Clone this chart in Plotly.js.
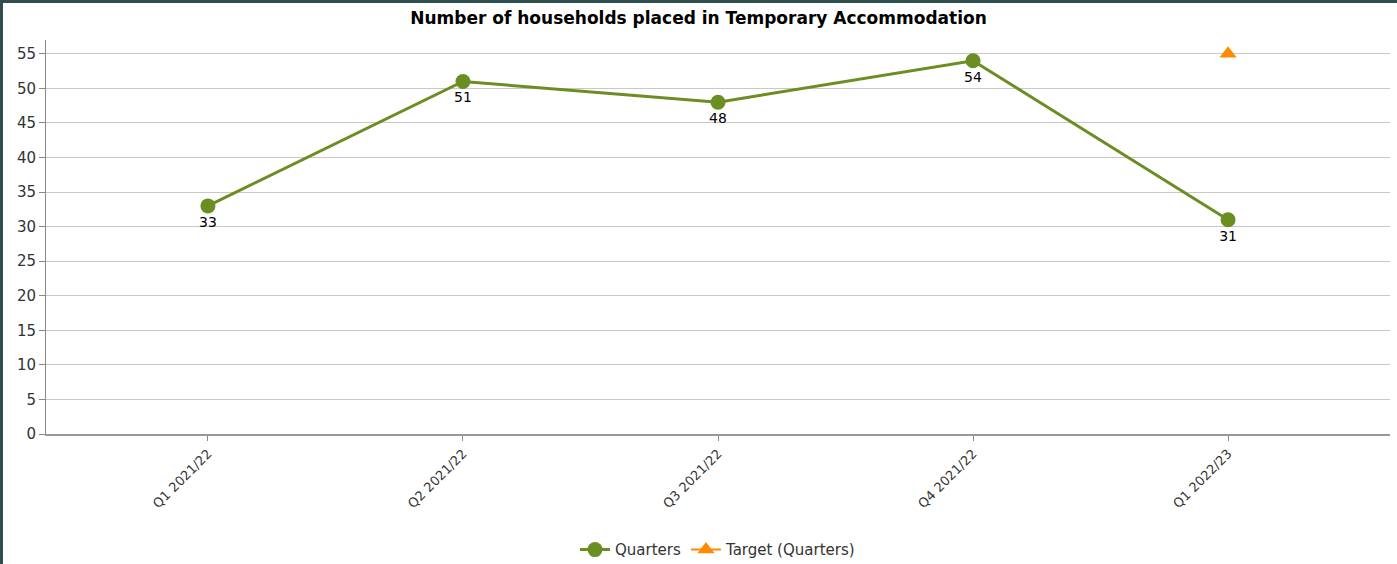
<!DOCTYPE html>
<html>
<head>
<meta charset="utf-8">
<script src="https://cdn.plot.ly/plotly-3.0.1.min.js"></script>
<style>
  html, body { margin: 0; padding: 0; background: #fff; }
  #wrap { width: 1397px; height: 564px; box-sizing: border-box; border-top: 3px solid #2f4f4f; border-left: 3px solid #2f4f4f; overflow: hidden; position: relative; }
  #chart { position: absolute; left: -3px; top: -3px; width: 1397px; height: 564px; }
</style>
</head>
<body>
<div id="wrap"><div id="chart"></div></div>
<script>
const categories = ["Q1 2021/22", "Q2 2021/22", "Q3 2021/22", "Q4 2021/22", "Q1 2022/23"];
const quarters = [33, 51, 48, 54, 31];
const targetCategories = ["Q1 2022/23"];
const targetValues = [55];
const yTicks = [0, 5, 10, 15, 20, 25, 30, 35, 40, 45, 50, 55];

const font = "Verdana, 'DejaVu Sans', sans-serif";

const traces = [
  {
    x: categories, y: quarters, name: "Quarters", type: "scatter",
    mode: "lines+markers+text",
    text: quarters.map(String), textposition: "bottom center",
    textfont: { family: font, size: 14, color: "#000" },
    line: { color: "#6b8e23", width: 3 },
    marker: { color: "#6b8e23", size: 15, symbol: "circle" },
    cliponaxis: false
  },
  {
    x: targetCategories, y: targetValues, name: "Target (Quarters)", type: "scatter",
    mode: "lines+markers",
    line: { color: "#ff8c00", width: 2 },
    marker: { color: "#ff8c00", size: 15, symbol: "triangle-up" },
    cliponaxis: false
  }
];

const layout = {
  width: 1397, height: 564,
  margin: { l: 46, r: 7, t: 40, b: 130, autoexpand: false },
  paper_bgcolor: "rgba(0,0,0,0)", plot_bgcolor: "rgba(0,0,0,0)",
  font: { family: font, color: "#333" },
  title: { text: "<b>Number of households placed in Temporary Accommodation</b>", font: { family: font, size: 17, color: "#000" }, x: 0.5, xanchor: "center", y: 0.968, yanchor: "middle" },
  xaxis: {
    type: "category", categoryorder: "array", categoryarray: categories,
    range: [-0.635, 4.635],
    tickangle: -45, ticks: "outside", ticklen: 5, tickcolor: "#888",
    showline: true, linecolor: "#999", linewidth: 2,
    showgrid: false, zeroline: false,
    tickfont: { family: font, size: 13, color: "#333" }
  },
  yaxis: {
    range: [0, 57], tickvals: yTicks, ticktext: yTicks.map(String),
    ticks: "outside", ticklen: 6, tickcolor: "#888",
    showline: true, linecolor: "#888", linewidth: 1,
    gridcolor: "#c8c8c8", gridwidth: 1, zeroline: false,
    tickfont: { family: font, size: 15, color: "#333" }
  },
  showlegend: true,
  legend: { orientation: "h", x: 0.5, xanchor: "center", y: -0.294, yanchor: "middle", font: { family: font, size: 15, color: "#333" }, itemwidth: 30, tracegroupgap: 0, traceorder: "normal" }
};

Plotly.newPlot("chart", traces, layout, { displayModeBar: false, staticPlot: true });
</script>
</body>
</html>
